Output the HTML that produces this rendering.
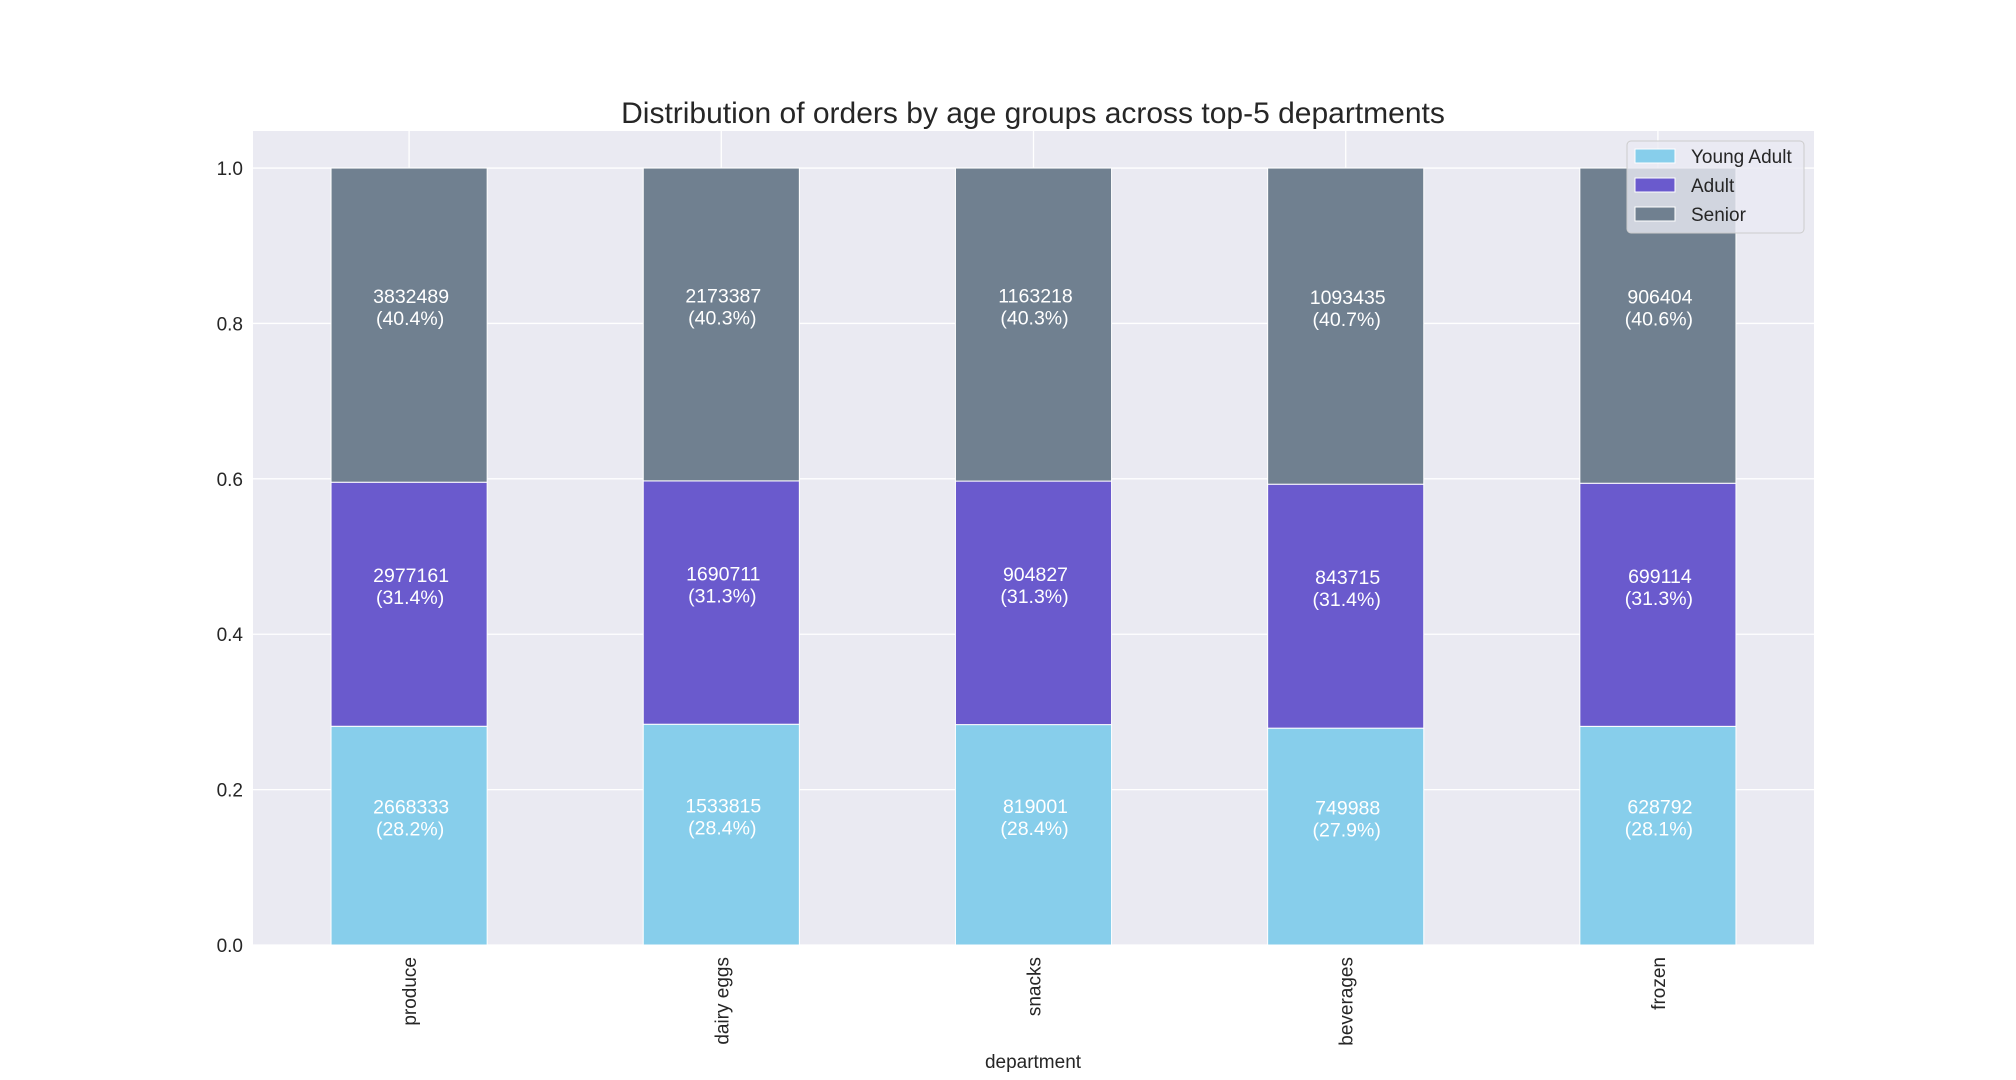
<!DOCTYPE html>
<html><head><meta charset="utf-8"><style>
html,body{margin:0;padding:0;background:#fff;}
svg{display:block;font-family:"Liberation Sans","DejaVu Sans",sans-serif;}
</style></head><body>
<svg id="chart" width="2016" height="1080" viewBox="0 0 2016 1080">
<rect x="253" y="131" width="1561" height="814" fill="#eaeaf2"/>
<g id="grid"></g><g id="bars"></g><g id="labels"></g><g id="axes"></g>
<text x="1033" y="123" font-size="30" fill="#262626" text-anchor="middle">Distribution of orders by age groups across top-5 departments</text>
<text x="1033" y="1068" font-size="19" fill="#262626" text-anchor="middle">department</text>
<g>
<rect x="1627" y="141" width="177" height="92" rx="4" fill="#eaeaf2" fill-opacity="0.8" stroke="#cccccc" stroke-width="1"/>
<g><rect x="1635" y="149" width="40" height="14" fill="#87ceeb" stroke="#fff"/><text x="1691" y="163" font-size="19" fill="#262626">Young Adult</text></g>
<g><rect x="1635" y="178" width="40" height="14" fill="#6a5acd" stroke="#fff"/><text x="1691" y="192" font-size="19" fill="#262626">Adult</text></g>
<g><rect x="1635" y="207" width="40" height="14" fill="#708090" stroke="#fff"/><text x="1691" y="221" font-size="19" fill="#262626">Senior</text></g>
</g>
</svg>
<script>
const categories = ["produce","dairy eggs","snacks","beverages","frozen"];
const youngAdult = [2668333,1533815,819001,749988,628792];
const adult = [2977161,1690711,904827,843715,699114];
const senior = [3832489,2173387,1163218,1093435,906404];
const yTicks = [0,0.2,0.4,0.6,0.8,1.0];
const seriesNames = ["young-adult","adult","senior"];
const seriesColors = ["#87ceeb","#6a5acd","#708090"];

const NS="http://www.w3.org/2000/svg";
const L=253,R=1814,T=131,B=945,YMAX=1.0477;
const band=(R-L)/categories.length;
function xc(i){return L+band*(i+0.5);}
function y(v){return B-(v/YMAX)*(B-T);}
function mk(tag,attrs,parent){const e=document.createElementNS(NS,tag);for(const k in attrs)e.setAttribute(k,attrs[k]);parent.appendChild(e);return e;}
const grid=document.getElementById('grid'),bars=document.getElementById('bars'),labels=document.getElementById('labels'),axes=document.getElementById('axes');
yTicks.forEach(t=>{
  const ln=mk('line',{x1:L,x2:R,y1:y(t),y2:y(t),stroke:'#fff','stroke-width':1.3},grid);
  
  
  const tx=mk('text',{x:L-10,y:y(t)+7,'font-size':19,fill:'#262626','text-anchor':'end'},axes);
  tx.textContent=t.toFixed(1);
  
  
});
categories.forEach((c,i)=>{
  const g=mk('line',{x1:xc(i),x2:xc(i),y1:T,y2:B,stroke:'#fff','stroke-width':1.3},grid);
  
  
  const vals=[youngAdult[i],adult[i],senior[i]];
  const tot=vals[0]+vals[1]+vals[2];
  let acc=0;
  const bw=band*0.5;
  vals.forEach((v,s)=>{
    const f=v/tot;
    const y0=y(acc),y1=y(acc+f);
    const r=mk('rect',{x:xc(i)-bw/2,y:y1,width:bw,height:y0-y1,fill:seriesColors[s],stroke:'#fff','stroke-width':1},bars);
    
    
    const mid=(y0+y1)/2;
    const t=mk('text',{x:xc(i),'font-size':19.5,fill:'#fff','text-anchor':'middle'},labels);
    
    
    const a=mk('tspan',{x:xc(i)+2,y:mid-22},t);a.textContent=String(v);
    const b=mk('tspan',{x:xc(i)+1,y:mid},t);b.textContent='('+(f*100).toFixed(1)+'%)';
    acc+=f;
  });
  const tl=mk('text',{x:0,y:0,'font-size':19,fill:'#262626','text-anchor':'end',transform:`translate(${xc(i)+7},${B+12}) rotate(-90)`},axes);
  tl.textContent=c;
  
  
});
</script>
</body></html>
